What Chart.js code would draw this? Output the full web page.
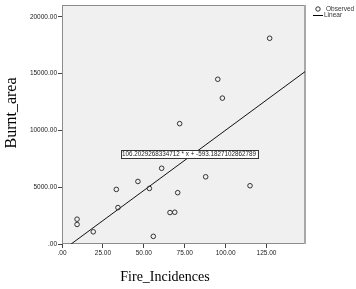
<!DOCTYPE html>
<html>
<head>
<meta charset="utf-8">
<script src="https://cdn.jsdelivr.net/npm/chart.js@4/dist/chart.umd.min.js"></script>
<style>
  html, body { margin: 0; padding: 0; background: #fff; }
  #wrap { position: relative; width: 356px; height: 289px; }
</style>
</head>
<body>
<div id="wrap"><canvas id="chart" width="356" height="289"></canvas></div>
<script>
// observed points (Fire_Incidences vs Burnt_area)
const fireIncidences = [9.2, 9.2, 19.1, 33.2, 34.2, 46.4, 53.4, 55.8, 60.9, 66.0, 68.9, 70.7, 71.9, 87.8, 95.2, 98.0, 114.9, 126.9];
const burntArea = [2185, 1722, 1075, 4808, 3208, 5507, 4895, 673, 6670, 2770, 2797, 4520, 10600, 5918, 14510, 12850, 5131, 18120];

// fitted linear line end points
const fitX = [5.59, 148.5];
const fitY = [0, 15178];
const fitLabel = '106.2029268334712 * x + -593.1827102862789';
const fitLabelAt = [77.6, 7910];

const xTicks = [0, 25, 50, 75, 100, 125];
const yTicks = [0, 5000, 10000, 15000, 20000];

const fmt = v => v === 0 ? '.00' : v.toFixed(2);

const decor = {
    id: 'decor',
    beforeDraw(chart) {
        const { ctx, chartArea: a } = chart;
        ctx.save();
        ctx.fillStyle = '#f0f0f0';
        ctx.fillRect(a.left, a.top, a.right - a.left, a.bottom - a.top);
        ctx.strokeStyle = '#8c8c8c';
        ctx.lineWidth = 1;
        ctx.strokeRect(a.left + 0.5, a.top + 0.5, a.right - a.left - 1, a.bottom - a.top - 1);
        ctx.strokeStyle = '#a8a8a8';
        ctx.lineWidth = 2;
        ctx.beginPath();
        ctx.moveTo(a.right, a.top);
        ctx.lineTo(a.right, a.bottom);
        ctx.stroke();
        ctx.restore();
    },
    afterDatasetsDraw(chart) {
        const { ctx, scales } = chart;
        ctx.save();
        // equation label
        ctx.font = '6.3px "Liberation Sans", Arial, sans-serif';
        const w = ctx.measureText(fitLabel).width;
        const cx = scales.x.getPixelForValue(fitLabelAt[0]);
        const cy = scales.y.getPixelForValue(fitLabelAt[1]);
        ctx.fillStyle = '#fff';
        ctx.fillRect(cx - w / 2 - 1.5, cy - 4, w + 3, 8);
        ctx.strokeStyle = '#333';
        ctx.lineWidth = 1;
        ctx.strokeRect(Math.round(cx - w / 2 - 1.5) + 0.5, Math.round(cy - 4) + 0.5, Math.round(w + 3), 8);
        ctx.fillStyle = '#222';
        ctx.textAlign = 'center';
        ctx.textBaseline = 'middle';
        ctx.fillText(fitLabel, cx, cy + 0.5);

        // axis titles
        ctx.font = '14px "Liberation Serif", "Times New Roman", serif';
        ctx.fillStyle = '#000';
        ctx.fillText('Fire_Incidences', 165, 277);
        ctx.save();
        ctx.translate(12, 113);
        ctx.rotate(-Math.PI / 2);
        ctx.font = '16px "Liberation Serif", "Times New Roman", serif';
        ctx.fillText('Burnt_area', 0, 0);
        ctx.restore();

        // legend
        ctx.font = '6.5px "Liberation Sans", Arial, sans-serif';
        ctx.textAlign = 'left';
        ctx.strokeStyle = '#333';
        ctx.beginPath();
        ctx.arc(318, 9, 2.2, 0, Math.PI * 2);
        ctx.stroke();
        ctx.fillStyle = '#333';
        ctx.fillText('Observed', 326, 9);
        ctx.strokeStyle = '#000';
        ctx.beginPath();
        ctx.moveTo(313, 15.5);
        ctx.lineTo(323, 15.5);
        ctx.stroke();
        ctx.fillText('Linear', 324, 15);
        ctx.restore();
    }
};

new Chart(document.getElementById('chart'), {
    type: 'scatter',
    data: {
        datasets: [
            {
                label: 'Observed',
                data: fireIncidences.map((x, i) => ({ x, y: burntArea[i] })),
                pointStyle: 'circle',
                pointRadius: 2.3,
                pointBorderWidth: 1,
                pointBorderColor: '#333',
                pointBackgroundColor: 'rgba(0,0,0,0)',
                showLine: false
            },
            {
                label: 'Linear',
                data: fitX.map((x, i) => ({ x, y: fitY[i] })),
                showLine: true,
                borderColor: '#111',
                borderWidth: 1,
                pointRadius: 0
            }
        ]
    },
    options: {
        responsive: false,
        animation: false,
        events: [],
        layout: { padding: { top: 3, right: 51, bottom: 0, left: 0 } },
        plugins: { legend: { display: false }, tooltip: { enabled: false } },
        scales: {
            x: {
                type: 'linear',
                min: 0,
                max: 148.5,
                afterBuildTicks: s => { s.ticks = xTicks.map(v => ({ value: v })); },
                afterFit: s => { s.height = 45; },
                ticks: { callback: fmt, padding: 1, maxRotation: 0, color: '#222', font: { size: 6.5, family: '"Liberation Sans", Arial, sans-serif' } },
                grid: { drawOnChartArea: false, drawTicks: true, tickLength: 4, color: '#444' },
                border: { display: false }
            },
            y: {
                type: 'linear',
                min: 0,
                max: 21050,
                afterBuildTicks: s => { s.ticks = yTicks.map(v => ({ value: v })); },
                afterFit: s => { s.width = 62; },
                ticks: { callback: fmt, padding: 1, color: '#222', font: { size: 6.5, family: '"Liberation Sans", Arial, sans-serif' } },
                grid: { drawOnChartArea: false, drawTicks: true, tickLength: 4, color: '#444' },
                border: { display: false }
            }
        }
    },
    plugins: [decor]
});
</script>
</body>
</html>
